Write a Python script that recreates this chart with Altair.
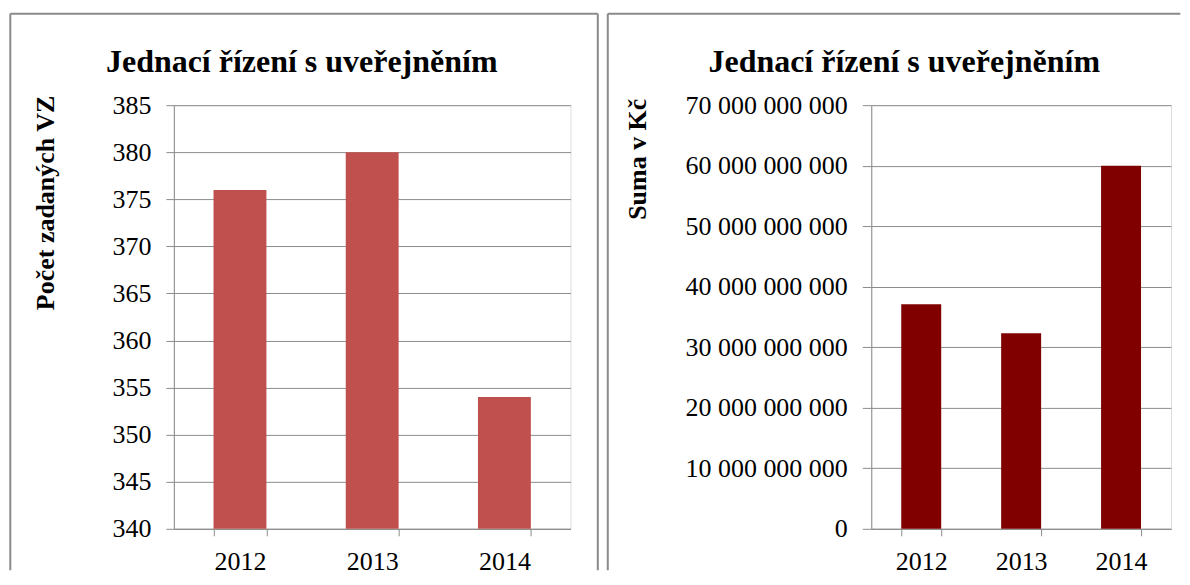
import altair as alt
import pandas as pd

# ---- data ----
YEARS = ["2012", "2013", "2014"]
COUNT_VZ = [376, 380, 354]
SUM_KC = [37_100_000_000, 32_300_000_000, 60_000_000_000]
COUNT_TICKS = [340, 345, 350, 355, 360, 365, 370, 375, 380, 385]
SUM_TICKS = [0, 10_000_000_000, 20_000_000_000, 30_000_000_000,
             40_000_000_000, 50_000_000_000, 60_000_000_000, 70_000_000_000]
TITLE_LEFT = "Jednací řízení s uveřejněním"
TITLE_RIGHT = "Jednací řízení s uveřejněním"
YTITLE_LEFT = "Počet zadaných VZ"
YTITLE_RIGHT = "Suma v Kč"

FONT = "Liberation Serif"
GRID = "#8c8c8c"
FRAME = "#8a8a8a"
LEFT_COLOR = "#C0504D"
RIGHT_COLOR = "#800000"

W_LEFT, W_RIGHT, H = 397, 300, 424
SPACING = 301

df_left = pd.DataFrame({"rok": YEARS, "pocet": COUNT_VZ})
df_right = pd.DataFrame({"rok": YEARS, "suma": SUM_KC})
one = alt.Data(values=[{"k": 1}])


def x_enc():
    return alt.X(
        "rok:N", sort=YEARS, title=None,
        scale=alt.Scale(paddingInner=0.6, paddingOuter=0.3),
        axis=alt.Axis(labelAngle=0, tickBand="extent", grid=False,
                      labelFont=FONT, labelFontSize=26, labelColor="#000",
                      labelPadding=13, tickSize=7, tickColor=GRID,
                      domainColor=GRID),
    )


def frame_layers(x0, x1, y0, y1, right_edge=True):
    base = alt.Chart(one)
    top = base.mark_rule(color=FRAME, strokeWidth=2).encode(
        x=alt.value(x0), x2=alt.value(x1), y=alt.value(y0))
    left = base.mark_rule(color=FRAME, strokeWidth=2).encode(
        x=alt.value(x0), y=alt.value(y0), y2=alt.value(y1))
    layers = [top, left]
    if right_edge:
        layers.append(base.mark_rule(color=FRAME, strokeWidth=2).encode(
            x=alt.value(x1), y=alt.value(y0), y2=alt.value(y1)))
    return layers


def title_layer(text, x, y):
    return alt.Chart(one).mark_text(
        font=FONT, fontSize=32, fontWeight="bold", color="#000",
        align="center", baseline="alphabetic",
    ).encode(x=alt.value(x), y=alt.value(y), text=alt.value(text))


bars_left = alt.Chart(df_left).mark_bar(color=LEFT_COLOR).encode(
    x=x_enc(),
    y=alt.Y("pocet:Q", scale=alt.Scale(domain=[COUNT_TICKS[0], COUNT_TICKS[-1]], zero=False, nice=False),
            axis=alt.Axis(values=COUNT_TICKS, title=YTITLE_LEFT,
                          titleFont=FONT, titleFontSize=26, titleFontWeight="bold",
                          titleColor="#000", titleAngle=270, titleAlign="right",
                          titleBaseline="alphabetic", titleX=-120, titleY=-10,
                          labelFont=FONT, labelFontSize=26, labelColor="#000",
                          labelPadding=15, tickSize=8, tickColor=GRID,
                          domainColor=GRID, gridColor=GRID, gridOpacity=1)),
    y2=alt.datum(COUNT_TICKS[0]),
)

bars_right = alt.Chart(df_right).mark_bar(color=RIGHT_COLOR).encode(
    x=x_enc(),
    y=alt.Y("suma:Q", scale=alt.Scale(domain=[SUM_TICKS[0], SUM_TICKS[-1]], nice=False),
            axis=alt.Axis(values=SUM_TICKS, title=YTITLE_RIGHT, format=",d",
                          titleFont=FONT, titleFontSize=26, titleFontWeight="bold",
                          titleColor="#000", titleAngle=270, titleAlign="right",
                          titleBaseline="alphabetic", titleX=-226, titleY=-7,
                          labelFont=FONT, labelFontSize=26, labelColor="#000",
                          labelPadding=15, tickSize=9, tickColor=GRID,
                          domainColor=GRID, gridColor=GRID, gridOpacity=1)),
)

left = alt.layer(
    *frame_layers(-163.7, 424.3, -91.5, 465.5),
    title_layer(TITLE_LEFT, 128, -33),
    bars_left,
).properties(width=W_LEFT, height=H)

right = alt.layer(
    *frame_layers(-263.7, 309.3, -91.5, 465.5, right_edge=False),
    title_layer(TITLE_RIGHT, 33, -33),
    bars_right,
).properties(width=W_RIGHT, height=H)

chart = alt.hconcat(left, right, spacing=SPACING, bounds="flush").properties(
    padding={"left": 0, "top": 4, "right": 0, "bottom": 0},
    background="white",
).configure_view(stroke=None).configure(
    locale={"number": {"decimal": ",", "thousands": " ", "grouping": [3],
                       "currency": ["", " Kč"]}}
)

chart.save("out.html", embed_options={"renderer": "svg", "actions": False})
